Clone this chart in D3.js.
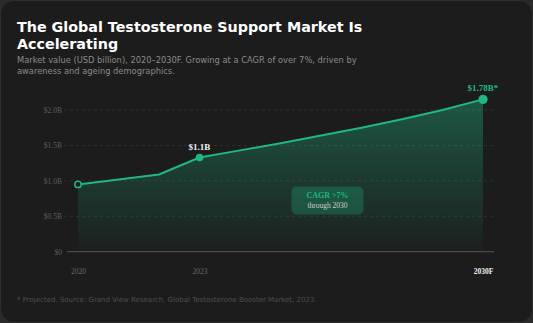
<!DOCTYPE html>
<html><head><meta charset="utf-8">
<script src="https://cdn.jsdelivr.net/npm/d3@7"></script>
<style>
html,body{margin:0;padding:0;background:#2a2a2a;}
svg{display:block;}
</style></head>
<body>
<svg id="c" width="533" height="323"></svg>
<script>
const years = [2020, 2021, 2022, 2023, 2024, 2025, 2026, 2027, 2028, 2029, 2030];
const values = [0.95, 1.02, 1.09, 1.33, 1.43, 1.53, 1.64, 1.75, 1.87, 2.0, 2.15];
const yTicks = [0, 0.5, 1.0, 1.5, 2.0];
const yTickLabels = ["$0", "$0.5B", "$1.0B", "$1.5B", "$2.0B"];
const xTicks = [2020, 2023, 2030];
const xTickLabels = ["2020", "2023", "2030F"];
const callouts = [{year: 2023, value: 1.33, label: "$1.1B"}, {year: 2030, value: 2.15, label: "$1.78B*"}];
const title = ["The Global Testosterone Support Market Is", "Accelerating"];
const subtitle = ["Market value (USD billion), 2020\u20132030F. Growing at a CAGR of over 7%, driven by", "awareness and ageing demographics."];
const footnote = "* Projected. Source: Grand View Research, Global Testosterone Booster Market, 2023.";

const svg = d3.select("#c");
const green = "#1fb882";
const serif = "'Liberation Serif', 'DejaVu Serif', serif";
const sans = "'DejaVu Sans', sans-serif";

svg.append("rect").attr("x",0.5).attr("y",0.5).attr("width",532).attr("height",322)
  .attr("rx",13).attr("fill","#1c1c1c").attr("stroke","#2e2e2e");

const defs = svg.append("defs");
const grad = defs.append("linearGradient").attr("id","ag").attr("x1",0).attr("y1",0).attr("x2",0).attr("y2",1);
grad.append("stop").attr("offset","0%").attr("stop-color",green).attr("stop-opacity",0.38);
grad.append("stop").attr("offset","100%").attr("stop-color",green).attr("stop-opacity",0.02);

// Title
svg.append("g").selectAll("text").data(title).join("text")
  .attr("x",17).attr("y",(d,i)=>32+i*16.5)
  .attr("fill","#ffffff").attr("font-family",sans).attr("font-weight","bold").attr("font-size",14.3).text(d=>d);
svg.append("g").selectAll("text").data(subtitle).join("text")
  .attr("x",17).attr("y",(d,i)=>63+i*11)
  .attr("fill","#8a8a8a").attr("font-family",sans).attr("font-size",8.3).text(d=>d);

const x = d3.scaleLinear().domain([2020,2030]).range([78,483]);
const y = d3.scaleLinear().domain([0,2]).range([251.7,110]);

// grid
svg.append("g").selectAll("line").data(yTicks.filter(d=>d>0)).join("line")
  .attr("x1",64).attr("x2",493).attr("y1",d=>y(d)).attr("y2",d=>y(d))
  .attr("stroke","#2f2f2f").attr("stroke-dasharray","3,3");

// y axis
const yAxis = d3.axisLeft(y).tickValues(yTicks).tickSize(0).tickPadding(0)
  .tickFormat((d,i)=>yTickLabels[i]);
const ya = svg.append("g").attr("transform","translate(62,0)").call(yAxis);
ya.select(".domain").remove();
ya.selectAll("text").attr("fill","#5e5e5e").attr("font-family",serif).attr("font-size",7.5).attr("dy","0.32em");

// area + line
const area = d3.area().x((d,i)=>x(years[i])).y0(y(0)).y1(d=>y(d));
svg.append("path").datum(values).attr("d",area).attr("fill","url(#ag)");
// baseline
svg.append("line").attr("x1",67).attr("x2",494).attr("y1",y(0)).attr("y2",y(0)).attr("stroke","#555").attr("stroke-width",1);
const line = d3.line().x((d,i)=>x(years[i])).y(d=>y(d));
svg.append("path").datum(values).attr("d",line).attr("fill","none").attr("stroke",green).attr("stroke-width",2).attr("stroke-linejoin","round");

// markers
svg.append("circle").attr("cx",x(years[0])).attr("cy",y(values[0])).attr("r",3.2)
  .attr("fill","#1c1c1c").attr("stroke",green).attr("stroke-width",1.5);
svg.append("circle").attr("cx",x(2023)).attr("cy",y(values[3])).attr("r",3.8).attr("fill",green);
svg.append("circle").attr("cx",x(2030)).attr("cy",y(values[10])).attr("r",4.6).attr("fill",green);

// callout labels
svg.append("text").attr("x",x(callouts[0].year)).attr("y",y(callouts[0].value)-7)
  .attr("text-anchor","middle").attr("fill","#f0f0f0").attr("font-family",serif).attr("font-weight","bold").attr("font-size",9).text(callouts[0].label);
svg.append("text").attr("x",x(callouts[1].year)).attr("y",y(callouts[1].value)-8)
  .attr("text-anchor","middle").attr("fill",green).attr("font-family",serif).attr("font-weight","bold").attr("font-size",9).text(callouts[1].label);

// x labels
const xAxis = d3.axisBottom(x).tickValues(xTicks).tickSize(0).tickPadding(0).tickFormat((d,i)=>xTickLabels[i]);
const xa = svg.append("g").attr("transform","translate(0,269)").call(xAxis);
xa.select(".domain").remove();
xa.selectAll("text").attr("font-family",serif).attr("font-size",7.5)
  .attr("fill",(d,i)=>i===2?"#f0f0f0":"#6a6a6a").attr("font-weight",(d,i)=>i===2?"bold":"normal");

// CAGR box
svg.append("rect").attr("x",291.5).attr("y",186.5).attr("width",72).attr("height",28).attr("rx",5)
  .attr("fill","#1fb882").attr("fill-opacity",0.28);
svg.append("text").attr("x",327.5).attr("y",197.5).attr("text-anchor","middle").attr("fill",green)
  .attr("font-family",serif).attr("font-weight","bold").attr("font-size",8).text("CAGR >7%");
svg.append("text").attr("x",327.5).attr("y",207.5).attr("text-anchor","middle").attr("fill","#cfcfcf")
  .attr("font-family",serif).attr("font-size",7.5).text("through 2030");

// footnote
svg.append("text").attr("x",17).attr("y",302).attr("fill","#4e4e4e").attr("font-family",sans).attr("font-size",7).text(footnote);
</script>
</body></html>
